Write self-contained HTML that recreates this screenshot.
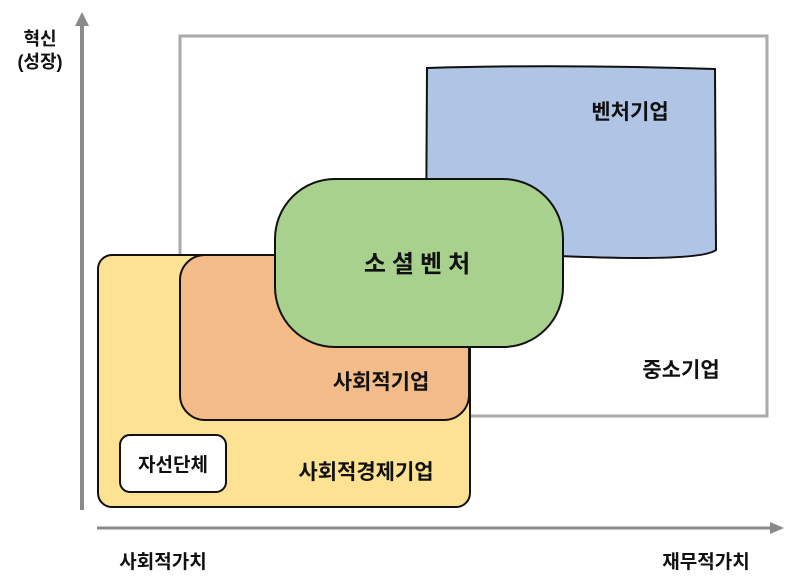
<!DOCTYPE html>
<html><head><meta charset="utf-8"><style>
html,body{margin:0;padding:0;background:#fff;}
svg{display:block;}
text{font-family:"Liberation Sans","Noto Sans CJK KR",sans-serif;font-weight:bold;fill:#111;}
</style></head><body>
<svg width="800" height="582" viewBox="0 0 800 582" xmlns="http://www.w3.org/2000/svg">
<line x1="82" y1="510" x2="82" y2="24" stroke="#8a8a8a" stroke-width="4"/>
<polygon points="82,12 75,26 89,26" fill="#8a8a8a"/>
<line x1="97" y1="528" x2="772" y2="528" stroke="#8a8a8a" stroke-width="3"/>
<polygon points="784,528 770,522 770,534" fill="#8a8a8a"/>
<rect x="180" y="36" width="587" height="380" fill="none" stroke="#aaa" stroke-width="3"/>
<path d="M427,68 Q560,64 715,69 L716,250 Q700,262 560,256 L426,252 Z" fill="#b0c4e6" stroke="#111" stroke-width="2"/>
<rect x="98" y="255" width="372" height="252" rx="14" fill="#fde293" stroke="#111" stroke-width="2"/>
<rect x="180" y="255" width="289" height="165" rx="25" fill="#f3bb87" stroke="#111" stroke-width="2"/>
<rect x="275" y="179" width="288" height="168" rx="60" fill="#a9d18e" stroke="#111" stroke-width="2"/>
<rect x="120" y="435" width="106" height="57" rx="10" fill="#fff" stroke="#111" stroke-width="2"/>
<text x="40" y="45" font-size="18" text-anchor="middle">혁신</text>
<text x="40" y="68" font-size="18" text-anchor="middle">(성장)</text>
<text x="630" y="119" font-size="21" text-anchor="middle">벤처기업</text>
<text x="420" y="272" font-size="24" text-anchor="middle" letter-spacing="6">소셜벤처</text>
<text x="381" y="389" font-size="21" text-anchor="middle">사회적기업</text>
<text x="366" y="479" font-size="21" text-anchor="middle">사회적경제기업</text>
<text x="681" y="377" font-size="21" text-anchor="middle">중소기업</text>
<text x="173" y="471" font-size="19" text-anchor="middle">자선단체</text>
<text x="163" y="568" font-size="19" text-anchor="middle">사회적가치</text>
<text x="706" y="568" font-size="19" text-anchor="middle">재무적가치</text>
</svg>
</body></html>
